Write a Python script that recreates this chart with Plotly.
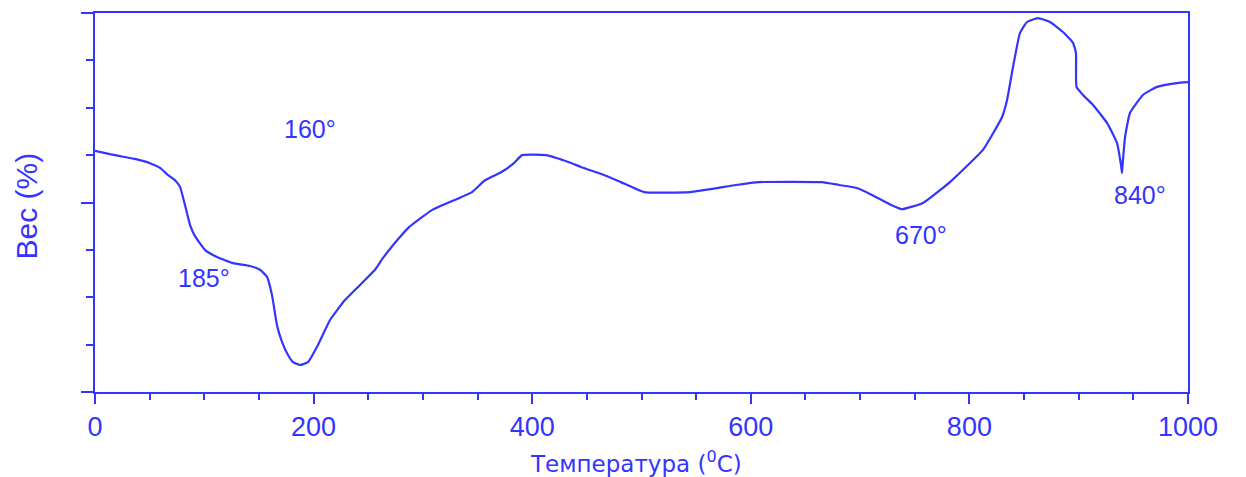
import plotly.graph_objects as go

# Temperature (°C) and weight (arbitrary units, axis has no labels)
temperature = [0, 13.7, 22.9, 36.6, 50.3, 59.5, 66.8, 73.2, 77.8, 82.3, 86.9, 91.5,
               100.6, 111.6, 126.3, 141.8, 151.0, 157.4, 161.9, 166.5, 171.1, 176.6,
               181.2, 187.6, 194.9, 204.0, 215.0, 228.7, 242.5, 256.2, 263.5, 279.0,
               287.3, 308.3, 344.9, 356.8, 371.5, 383.3, 390.7, 412.6, 433.7, 444.6,
               465.7, 481.2, 502.3, 544.4, 586.5, 607.5, 665.1, 680.7, 696.2, 710.9,
               728.3, 738.3, 757.5, 782.2, 798.7, 812.4, 829.8, 834.4, 839.9, 846.3,
               852.7, 862.8, 873.7, 885.6, 894.8, 897.5, 898.0, 903.9, 913.1, 925.9,
               935.0, 938.7, 939.6, 940.5, 942.4, 946.9, 958.8, 971.6, 989.9, 1000]
weight = [5.09, 5.02, 4.98, 4.92, 4.83, 4.73, 4.58, 4.47, 4.33, 3.95, 3.53, 3.29,
          3.00, 2.85, 2.72, 2.66, 2.58, 2.43, 2.05, 1.41, 1.06, 0.78,
          0.63, 0.57, 0.63, 0.99, 1.52, 1.94, 2.26, 2.58, 2.83, 3.27,
          3.48, 3.84, 4.22, 4.47, 4.64, 4.83, 5.00, 5.00, 4.85, 4.75,
          4.58, 4.43, 4.22, 4.22, 4.37, 4.43, 4.43, 4.37, 4.31, 4.16,
          3.95, 3.86, 3.99, 4.43, 4.79, 5.11, 5.80, 6.16, 6.86, 7.58,
          7.81, 7.89, 7.81, 7.60, 7.37, 7.16, 6.44, 6.27, 6.06, 5.68,
          5.26, 4.79, 4.62, 4.90, 5.38, 5.89, 6.27, 6.44, 6.52, 6.54]

# Peak labels
label_texts = ["160°", "185°", "670°", "840°"]
label_x = [196.7, 99.7, 755.7, 956.0]
label_y = [5.55, 2.41, 3.31, 4.16]

x_tickvals = [0, 200, 400, 600, 800, 1000]
x_title = "Температура (<sup>0</sup>C)"
y_title = "Вес (%)"

BLUE = "#3434ff"
FONT = "Liberation Sans, Arial, sans-serif"

fig = go.Figure()
fig.add_trace(go.Scatter(x=temperature, y=weight, mode="lines",
                         line=dict(color=BLUE, width=2.2, shape="spline", smoothing=0.4),
                         hoverinfo="skip", showlegend=False))

for t, xx, yy in zip(label_texts, label_x, label_y):
    fig.add_annotation(x=xx, y=yy, xref="x", yref="y", text=t, showarrow=False,
                       xanchor="center", yanchor="middle",
                       font=dict(family=FONT, size=25, color=BLUE))

fig.add_annotation(x=0.5, y=0, xref="paper", yref="paper", text=x_title,
                   showarrow=False, xanchor="center", yanchor="middle",
                   xshift=-6, yshift=-70,
                   font=dict(family="DejaVu Sans, sans-serif", size=23, color=BLUE))
fig.add_annotation(x=0, y=0.5, xref="paper", yref="paper", text=y_title,
                   showarrow=False, xanchor="center", yanchor="middle",
                   textangle=-90, xshift=-69, yshift=-4,
                   font=dict(family=FONT, size=30, color=BLUE))

fig.update_layout(
    width=1246, height=477,
    margin=dict(l=95, r=58, t=13, b=85),
    plot_bgcolor="white", paper_bgcolor="white",
    font=dict(family=FONT, color=BLUE),
)
fig.update_xaxes(
    range=[0, 1000], tickvals=x_tickvals, ticks="outside", ticklen=10, tickwidth=2,
    tickcolor=BLUE, showline=True, linecolor=BLUE, linewidth=2, mirror=True,
    showgrid=False, zeroline=False,
    tickfont=dict(family=FONT, size=27, color=BLUE),
    minor=dict(dtick=50, ticks="outside", ticklen=6, tickwidth=2, tickcolor=BLUE,
               showgrid=False),
)
fig.update_yaxes(
    range=[0, 8], dtick=4, tick0=0, ticks="outside", ticklen=12, tickwidth=2,
    tickcolor=BLUE, showline=True, linecolor=BLUE, linewidth=2, mirror=True,
    showgrid=False, zeroline=False, showticklabels=False,
    minor=dict(dtick=1, ticks="outside", ticklen=7, tickwidth=2, tickcolor=BLUE,
               showgrid=False),
)

fig.write_html("out.html")
